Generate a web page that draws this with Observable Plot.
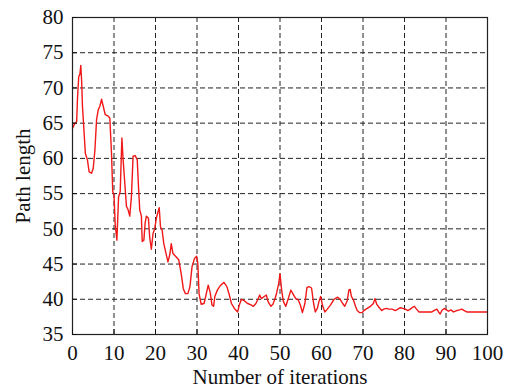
<!DOCTYPE html>
<html>
<head>
<meta charset="utf-8">
<script src="https://cdn.jsdelivr.net/npm/d3@7"></script>
<script src="https://cdn.jsdelivr.net/npm/@observablehq/plot@0.6"></script>
<style>
  html, body { margin: 0; padding: 0; background: #fff; }
  #chart svg { display: block; }
</style>
</head>
<body>
<div id="chart"></div>
<script>
const iterations = [0,0.6,1,1.2,1.5,1.8,2,2.2,2.4,2.8,3.1,3.6,4,4.6,5,5.4,5.8,6.2,6.6,7,7.4,7.9,8.6,9,9.4,9.7,10,10.3,10.7,11.1,11.5,11.9,12.2,12.6,13,13.4,13.8,14.2,14.6,15.1,15.6,15.9,16.2,16.6,16.8,17.2,17.5,17.8,18.3,18.6,19,19.4,19.8,20.2,20.6,20.9,21.2,21.6,22,22.5,23,23.5,23.8,24.2,25,25.6,26.2,26.7,27.2,27.8,28.3,28.8,29.4,29.9,30.2,30.5,31,31.7,32.1,32.7,33.2,33.6,34,34.3,34.9,35.7,36.5,37.2,37.8,38.3,39,39.8,40.2,40.7,41.4,42.2,43,43.6,44.2,44.6,45.1,45.5,46.2,46.7,47.1,47.8,48.3,48.8,49.2,49.7,50,50.4,50.8,51.4,52,52.6,53.3,53.8,54.4,54.9,55.4,56,56.5,57,57.6,58.1,58.5,59,59.4,59.8,60.3,60.8,61.4,62.2,63,63.9,64.5,65.1,65.6,66.2,66.6,66.9,67.2,67.7,68.2,68.6,69.2,69.8,70.2,71,71.8,72.5,72.9,73.3,73.8,74.5,75,75.7,76.2,77,77.8,78.4,79,79.6,80.2,80.8,81.4,82,82.4,82.9,83.5,84.2,85.4,86.6,87.4,87.8,88.2,88.6,89,89.6,90.1,90.6,91.2,91.8,92.6,93.3,93.8,94.4,95,96.6,100];
const pathLength = [64.3,65,65.2,68.5,71.6,72,73.2,71,67.4,63.6,60.7,59.8,58.1,57.9,58.6,61.2,65.5,66.9,67.4,68.4,67.4,66.2,66,65.7,60.7,55.3,54.8,50.5,48.4,54.5,55.3,62.9,59.8,56.5,53.2,52.7,51.8,54.6,60.3,60.4,59.8,56,52.7,51.8,48.2,48.4,50.8,51.8,51.5,48.8,47.1,49.3,50,51.5,52.4,53,50.3,49.8,47.9,46.6,45.3,46.5,47.9,46.5,46,45.6,43.6,41.5,40.8,40.8,41.8,44.6,45.8,46.1,45.1,40.8,39.3,39.4,40.4,42,40.9,39.2,39,40.4,41.3,42,42.4,41.8,40.6,39.4,38.7,38.2,39.2,40,39.8,39.4,39.2,39,39.4,39.9,40.6,40.1,40.4,40.6,39.7,39,39.3,40.1,40.9,42.3,43.6,41.3,39.7,39,40.1,41.3,40.6,40.1,39.9,39.2,38.1,39.4,41.7,41.8,41.6,39.4,38.2,38.7,39.7,40.4,39,38.2,38.6,39.2,40,40.3,40,39.4,39,39.8,41.3,41.4,40.4,39.9,39,38.4,38.1,38.1,38.4,38.7,39,39.4,40.1,39.3,38.9,38.4,38.6,38.7,38.6,38.6,38.4,38.6,38.8,38.7,38.6,38.4,38.6,38.9,39,38.6,38.2,38.2,38.2,38.2,38.5,38.6,38.2,37.9,38.4,38.7,38.5,38.3,38.5,38.2,38.4,38.5,38.6,38.4,38.2,38.2,38.2];
const xTicks = [0,10,20,30,40,50,60,70,80,90,100];
const yTicks = [35,40,45,50,55,60,65,70,75,80];

const data = iterations.map((x, i) => ({x, y: pathLength[i]}));

const chart = Plot.plot({
  width: 510,
  height: 387,
  marginLeft: 72,
  marginRight: 23,
  marginTop: 17,
  marginBottom: 53,
  style: {fontFamily: "'Liberation Serif', 'Times New Roman', serif", fontSize: "21px", color: "#111", background: "#fff"},
  x: {domain: [0, 100]},
  y: {domain: [35, 80]},
  marks: [
    Plot.gridX(xTicks.slice(1, -1), {stroke: "#222", strokeOpacity: 1, strokeDasharray: "5,3", strokeWidth: 1}),
    Plot.gridY(yTicks.slice(1, -1), {stroke: "#222", strokeOpacity: 1, strokeDasharray: "5,3", strokeWidth: 1}),
    Plot.line(data, {x: "x", y: "y", stroke: "#f01818", strokeWidth: 1.4}),
    Plot.frame({stroke: "#222", strokeWidth: 1.2}),
    Plot.axisX(xTicks, {tickSize: -5, tickPadding: 16, label: "Number of iterations", labelAnchor: "center", labelOffset: 49, labelArrow: "none", fontSize: 21}),
    Plot.axisY(yTicks, {tickSize: -5, tickPadding: 14, label: "Path length", labelAnchor: "center", labelOffset: 57, labelArrow: "none", fontSize: 21})
  ]
});
document.getElementById("chart").appendChild(chart);
</script>
</body>
</html>
